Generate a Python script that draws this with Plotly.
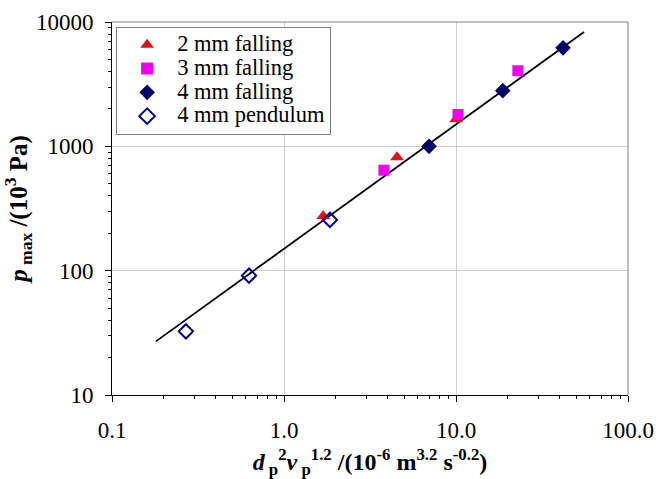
import plotly.graph_objects as go

# Data
x_2mm = [1.69, 4.54, 10.0]
y_2mm = [275, 817, 1650]
x_3mm = [3.81, 10.27, 22.9]
y_3mm = [643, 1803, 4055]
x_4mm = [6.97, 18.7, 41.9]
y_4mm = [1000, 2805, 6194]
x_pend = [0.269, 0.626, 1.85]
y_pend = [32.5, 91.2, 256]
x_fit = [0.18, 55.5]
y_fit = [27.0, 8320]

series_names = ["2 mm falling", "3 mm falling", "4 mm falling", "4 mm pendulum"]

x_tickvals = [0.1, 1, 10, 100]
x_ticktext = ["0.1", "1.0", "10.0", "100.0"]
y_tickvals = [10, 100, 1000, 10000]
y_ticktext = ["10", "100", "1000", "10000"]

x_minor = [m * 10.0 ** e for e in range(-1, 2) for m in range(2, 10)]
y_minor = [m * 10.0 ** e for e in range(1, 4) for m in range(2, 10)]

font = "Liberation Serif, Times New Roman, serif"


def lg(name):
    # larger glyphs in the legend while keeping compact row spacing
    return '<span style="font-size:22.5px">' + name + '</span>'


fig = go.Figure()
fig.add_trace(go.Scatter(x=x_fit, y=y_fit, mode="lines", line=dict(color="black", width=1.8),
                         showlegend=False, hoverinfo="skip"))
fig.add_trace(go.Scatter(x=x_2mm, y=y_2mm, mode="markers", name=lg(series_names[0]),
                         marker=dict(symbol="triangle-up", size=12, color="#dc141e")))
fig.add_trace(go.Scatter(x=x_3mm, y=y_3mm, mode="markers", name=lg(series_names[1]),
                         marker=dict(symbol="square", size=11, color="#ee00ee")))
fig.add_trace(go.Scatter(x=x_4mm, y=y_4mm, mode="markers", name=lg(series_names[2]),
                         marker=dict(symbol="diamond", size=12, color="#000066")))
fig.add_trace(go.Scatter(x=x_pend, y=y_pend, mode="markers", name=lg(series_names[3]),
                         marker=dict(symbol="diamond-open", size=11, color="#000080",
                                     line=dict(width=2, color="#000080"))))

fig.update_layout(
    width=656, height=479,
    margin=dict(l=112, r=28, t=22, b=84),
    paper_bgcolor="white", plot_bgcolor="white",
    font=dict(family=font, size=22, color="black"),
    showlegend=True,
    legend=dict(x=0.008, y=0.987, xanchor="left", yanchor="top",
                bgcolor="white", bordercolor="#808080", borderwidth=1,
                font=dict(family=font, size=16, color="black"),
                itemsizing="constant", itemwidth=50, tracegroupgap=0),
    xaxis=dict(
        type="log", range=[-1, 2], automargin=False,
        tickvals=x_tickvals, ticktext=x_ticktext,
        ticks="outside", ticklen=6, tickcolor="black", ticklabelstandoff=8,
        showline=True, linecolor="black", linewidth=1, mirror=False,
        showgrid=True, gridcolor="#d0d0d0", gridwidth=1,
        zeroline=False,
        tickfont=dict(family=font, size=23),
        minor=dict(tickvals=x_minor, ticks="outside", ticklen=3, tickcolor="black", showgrid=False),
        title=dict(text="<b><i>d</i><sub> p</sub><sup>2</sup><i>v</i><sub> p</sub><sup>1.2</sup> /(10<sup>-6</sup> m<sup>3.2</sup> s<sup>-0.2</sup>)</b>",
                   font=dict(family=font, size=24), standoff=16),
    ),
    yaxis=dict(
        type="log", range=[1, 4], automargin=False,
        tickvals=y_tickvals, ticktext=y_ticktext,
        ticks="outside", ticklen=6, tickcolor="black", ticklabelstandoff=7,
        showline=True, linecolor="black", linewidth=1, mirror=False,
        showgrid=True, gridcolor="#d0d0d0", gridwidth=1,
        zeroline=False,
        tickfont=dict(family=font, size=23),
        minor=dict(tickvals=y_minor, ticks="outside", ticklen=3, tickcolor="black", showgrid=False),
        title=dict(text="<b><i>p</i><sub> max</sub> /(10<sup>3</sup> Pa)</b>",
                   font=dict(family=font, size=25), standoff=8),
    ),
    shapes=[
        dict(type="line", xref="paper", yref="paper", x0=0, x1=1, y0=1, y1=1,
             line=dict(color="#808080", width=1)),
        dict(type="line", xref="paper", yref="paper", x0=1, x1=1, y0=0, y1=1,
             line=dict(color="#808080", width=1)),
    ],
)

fig.write_html(
    "out.html",
    config={"displayModeBar": False},
    post_script="document.body.style.margin='0px';document.body.style.overflow='hidden';",
)
